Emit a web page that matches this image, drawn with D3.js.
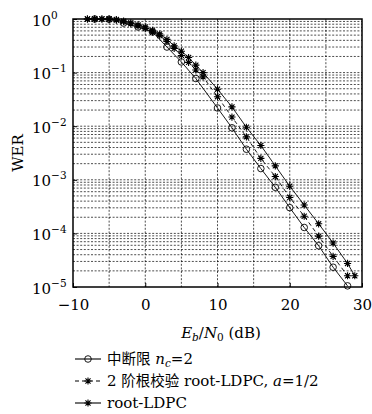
<!DOCTYPE html>
<html><head><meta charset="utf-8">
<script src="https://cdn.jsdelivr.net/npm/d3@7/dist/d3.min.js"></script>
<style>body{margin:0;background:#fff}svg{display:block}
.sf{font-family:"DejaVu Serif","Liberation Serif",serif}
.cj{font-family:"Noto Sans CJK SC","Noto Sans CJK JP",sans-serif}
</style></head>
<body>
<svg id="c" width="372" height="414"></svg>
<script>
// ---- data ----
const outageX = [-7,-5,-3,-1,1,3,5,7,10,12,14,16,18,20,22,24,26,28];
const outageY = [1.0,0.99,0.84,0.71,0.575,0.30,0.158,0.0776,0.0219,0.00933,0.00372,0.00162,7.24e-4,3.02e-4,1.29e-4,5.89e-5,2.34e-5,1.05e-5];
const rootCheckX = [-8,-7,-6,-5,-4,-3,-2,-1,0,1,2,3,4,5,6,7,8,10,12,14,16,18,20,22,24,26,28];
const rootCheckY = [1.0,1.0,1.0,0.99,0.955,0.891,0.813,0.741,0.661,0.575,0.490,0.380,0.282,0.209,0.155,0.112,0.0832,0.0355,0.0148,0.00631,0.00251,0.00115,4.68e-4,2.09e-4,8.91e-5,3.72e-5,1.62e-5];
const rootLdpcX = [-8,-7,-6,-5,-4,-3,-2,-1,0,1,2,3,4,5,6,7,8,10,12,14,16,18,20,22,24,26,28,29];
const rootLdpcY = [1.0,1.0,1.0,1.0,0.977,0.912,0.851,0.776,0.708,0.617,0.525,0.417,0.316,0.251,0.191,0.138,0.100,0.0490,0.0229,0.00955,0.00437,0.00182,7.59e-4,3.39e-4,1.51e-4,6.61e-5,2.75e-5,1.62e-5];
const xTicks = [-10,0,10,20,30];
const xTickLabels = ["\u221210","0","10","20","30"];
const yExponents = [0,-1,-2,-3,-4,-5];
const yTickLabels = ["0","\u22121","\u22122","\u22123","\u22124","\u22125"];

// ---- layout ----
const L=73, R=362, T=19, B=287;
const svg = d3.select("#c");
const x = d3.scaleLinear().domain([-10,30]).range([L,R]);
const y = d3.scaleLog().domain([1e-5,1]).range([B,T]);

// grid
const g = svg.append("g");
const vGrid = d3.range(-5,30,5);
g.selectAll("line.v").data(vGrid).join("line")
  .attr("x1",d=>x(d)).attr("x2",d=>x(d)).attr("y1",T).attr("y2",B)
  .attr("stroke","#000").attr("stroke-width",0.7).attr("stroke-dasharray","2,1.6");
const hGrid=[];
for(let e=-5;e<0;e++) for(let m=1;m<10;m++){ const v=m*Math.pow(10,e); if(v>1e-5*1.0001) hGrid.push(v); }
g.selectAll("line.h").data(hGrid).join("line")
  .attr("x1",L).attr("x2",R).attr("y1",d=>y(d)).attr("y2",d=>y(d))
  .attr("stroke","#000").attr("stroke-width",0.7).attr("stroke-dasharray","2,1.6");

// axes
const xa = svg.append("g").attr("transform",`translate(0,${B})`)
  .call(d3.axisBottom(x).tickValues(xTicks).tickFormat((d,i)=>xTickLabels[i]).tickSizeInner(-4).tickSizeOuter(0).tickPadding(12));
xa.select(".domain").remove();
xa.attr("font-family",null).attr("font-size",null);
xa.selectAll("text").attr("class","sf").style("font-size","15px").attr("fill","#000");
xa.selectAll("line").attr("stroke","#000");

const ya = svg.append("g").attr("transform",`translate(${L},0)`)
  .call(d3.axisLeft(y).tickValues(yExponents.map(e=>Math.pow(10,e))).tickFormat(()=>"").tickSizeInner(-4).tickSizeOuter(0));
ya.select(".domain").remove();
ya.attr("font-family",null).attr("font-size",null).attr("text-anchor",null);
ya.selectAll("line").attr("stroke","#000");
ya.selectAll(".tick").each(function(d,i){
  const t = d3.select(this).append("text").attr("class","sf").attr("x",-41).attr("y",6)
    .attr("text-anchor","start").style("font-size","15px").attr("fill","#000");
  t.append("tspan").text("10");
  t.append("tspan").attr("dy",-7).style("font-size","10.5px").text(yTickLabels[i]);
});

// frame
svg.append("rect").attr("x",L).attr("y",T).attr("width",R-L).attr("height",B-T)
  .attr("fill","none").attr("stroke","#000").attr("stroke-width",1.5);

// axis titles
svg.append("text").attr("class","sf").attr("transform","translate(23,153) rotate(-90)").attr("text-anchor","middle")
  .style("font-size","15px").text("WER");
const xt = svg.append("text").attr("class","sf").attr("x",221).attr("y",338).attr("text-anchor","middle")
  .style("font-size","15px");
xt.append("tspan").style("font-style","italic").text("E");
xt.append("tspan").style("font-size","10.5px").attr("dy",3).style("font-style","italic").text("b");
xt.append("tspan").attr("dy",-3).text("/");
xt.append("tspan").style("font-style","italic").text("N");
xt.append("tspan").style("font-size","10.5px").attr("dy",3).text("0");
xt.append("tspan").attr("dy",-3).text(" (dB)");

// markers
function star(sel,r){
  const p=[];
  for(let k=0;k<4;k++){ const a=k*Math.PI/4; p.push(`M${-r*Math.cos(a)},${-r*Math.sin(a)}L${r*Math.cos(a)},${r*Math.sin(a)}`); }
  sel.append("path").attr("d",p.join("")).attr("stroke","#000").attr("stroke-width",1.1).attr("fill","none");
}
function circ(sel,r){
  sel.append("circle").attr("r",r).attr("fill","none").attr("stroke","#000").attr("stroke-width",0.9);
}
const line = d3.line().x(d=>x(d[0])).y(d=>y(d[1]));
const series = [
  {xs:outageX, ys:outageY, dash:null, mk:"o"},
  {xs:rootCheckX, ys:rootCheckY, dash:"4,3", mk:"*"},
  {xs:rootLdpcX, ys:rootLdpcY, dash:null, mk:"*"}
];
series.forEach(s=>{
  const pts = s.xs.map((v,i)=>[v,s.ys[i]]);
  svg.append("path").datum(pts).attr("d",line).attr("fill","none").attr("stroke","#000")
    .attr("stroke-width",0.9).attr("stroke-dasharray",s.dash);
  pts.forEach(p=>{
    const m = svg.append("g").attr("transform",`translate(${x(p[0])},${y(p[1])})`);
    if(s.mk==="o") circ(m,3.3); else star(m,3.6);
  });
});

// legend
const legY=[359,381,403];
const lg = svg.append("g");
series.forEach((s,i)=>{
  const yy=legY[i];
  lg.append("line").attr("x1",75).attr("x2",101).attr("y1",yy).attr("y2",yy)
    .attr("stroke","#000").attr("stroke-width",1.1).attr("stroke-dasharray",s.dash?"4,3":null);
  const m = lg.append("g").attr("transform",`translate(88,${yy})`);
  if(s.mk==="o") circ(m,3.3); else star(m,3.6);
});
const t1 = lg.append("text").attr("class","sf").attr("x",107).attr("y",legY[0]+5).style("font-size","15px");
t1.append("tspan").attr("class","cj").style("font-size","14.5px").text("中断限");
t1.append("tspan").style("font-style","italic").text(" n");
t1.append("tspan").style("font-style","italic").style("font-size","10.5px").attr("dy",3).text("c");
t1.append("tspan").attr("dy",-3).text("=2");
const t2 = lg.append("text").attr("class","sf").attr("x",107).attr("y",legY[1]+5).style("font-size","15px");
t2.append("tspan").text("2 ");
t2.append("tspan").attr("class","cj").style("font-size","14.5px").text("阶根校验");
t2.append("tspan").text(" root-LDPC, ");
t2.append("tspan").style("font-style","italic").text("a");
t2.append("tspan").text("=1/2");
lg.append("text").attr("class","sf").attr("x",107).attr("y",legY[2]+5).style("font-size","15px").text("root-LDPC");
</script>
</body></html>
